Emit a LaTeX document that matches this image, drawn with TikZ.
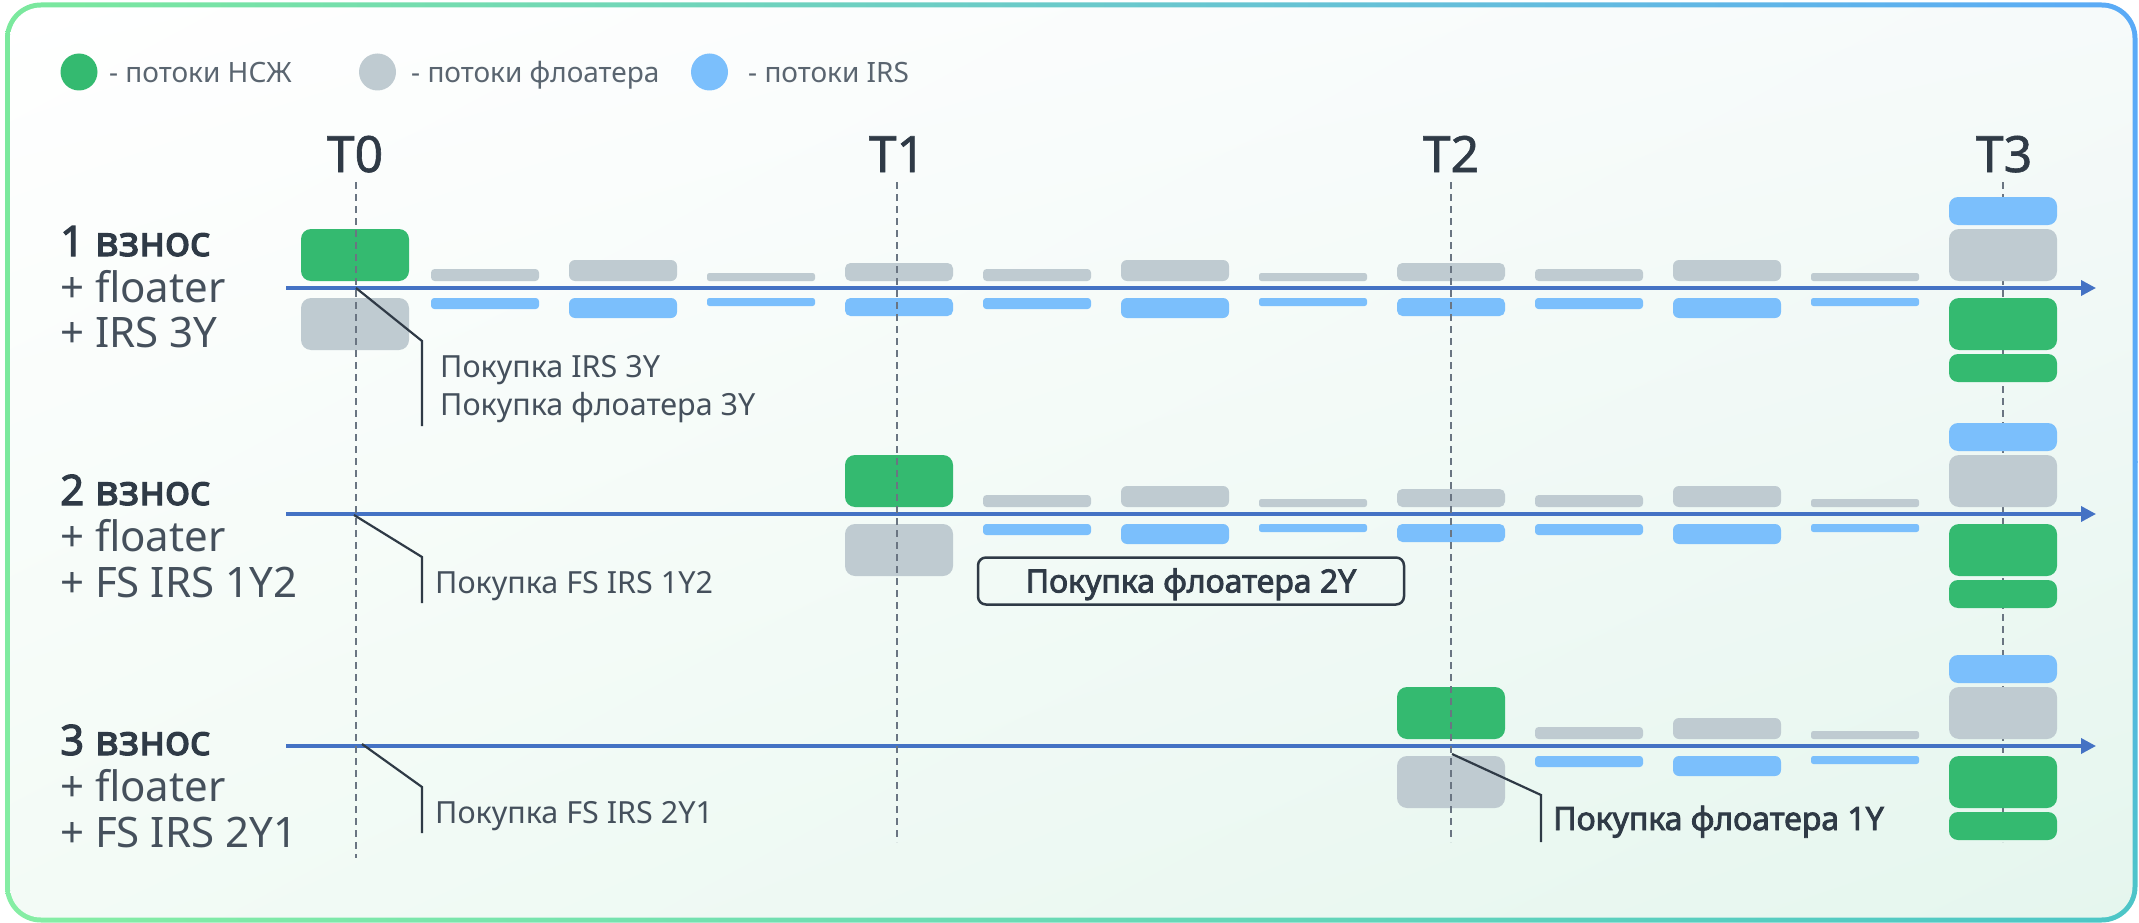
\documentclass[tikz,border=0pt]{standalone}
\usepackage{fontspec}
\setmainfont{Noto Sans}[BoldFont={Noto Sans}, BoldFeatures={FakeBold=2.6}]
\newfontfamily\medfont{Noto Sans}[FakeBold=1.2]
\usetikzlibrary{arrows.meta,shadings}
\definecolor{cgreen}{HTML}{34BA70}
\definecolor{cgray}{HTML}{BFCBD1}
\definecolor{cblue}{HTML}{7BBFFC}
\definecolor{caxis}{HTML}{4472C4}
\definecolor{cdark}{HTML}{2F3A46}
\definecolor{ctext}{HTML}{45505C}
\definecolor{clegend}{HTML}{5A6570}
\definecolor{cdash}{HTML}{6A7582}
\definecolor{bdA}{HTML}{7BE99D}
\definecolor{bdB}{HTML}{3DDB8C}
\definecolor{bdC}{HTML}{5AAAF7}
\definecolor{bdD}{HTML}{86EEA4}
\definecolor{bdE}{HTML}{4CC6C6}
\definecolor{bgA}{HTML}{FFFFFF}
\definecolor{bgB}{HTML}{F6FAFA}
\definecolor{bgC}{HTML}{F3FBF6}
\definecolor{bgD}{HTML}{E5F6EE}
\begin{document}
\begin{tikzpicture}[x=1pt,y=-1pt,
  box/.style={inner sep=0pt, outer sep=0pt, minimum width=108pt, draw=none},
  gbox/.style={box, fill=cgray},
  bbox/.style={box, fill=cblue},
  nbox/.style={box, fill=cgreen},
  bigbox/.style={minimum height=52pt, rounded corners=10pt},
  stackbox/.style={minimum height=28pt, rounded corners=9pt},
  dot/.style={circle, inner sep=0pt, minimum size=37pt, draw=none},
  legtext/.style={anchor=base west, inner sep=0pt, text=clegend, font=\fontsize{28}{32}\selectfont},
  tlabel/.style={anchor=base, inner sep=0pt, text=cdark, font=\medfont\fontsize{50}{56}\selectfont},
  rowhead/.style={anchor=base west, inner sep=0pt, text=cdark, font=\fontsize{42}{48}\selectfont\bfseries},
  rowsub/.style={anchor=base west, inner sep=0pt, text=ctext, font=\fontsize{42}{48}\selectfont},
  calltext/.style={anchor=base west, inner sep=0pt, text=ctext, font=\fontsize{30.5}{36}\selectfont},
  callbold/.style={anchor=base west, inner sep=0pt, text=cdark, font=\fontsize{32}{38}\selectfont\bfseries},
  callout/.style={draw=cdark, line width=2.2pt},
  dashline/.style={draw=cdash, line width=1.6pt, dash pattern=on 7pt off 5pt},
  axisline/.style={draw=caxis, line width=3.5pt, -{Triangle[length=15pt,width=15pt]}}
]
\useasboundingbox (0,0) rectangle (2139,923);
% frame
\begin{scope}
  \clip[rounded corners=36pt] (5,2.5) rectangle (2137.5,922.5);
  \shade[left color=bdA, middle color=bdB, right color=bdC] (0,0) rectangle (2139,462);
  \shade[upper left=bdA, upper right=bdC, lower left=bdD, lower right=bdE] (0,461) rectangle (2139,923);
\end{scope}
\shade[rounded corners=31pt, upper left=bgA, upper right=bgB, lower left=bgC, lower right=bgD] (10,7.5) rectangle (2132.5,917.5);

% legend
\node[dot, fill=cgreen] (lg1) at (79,72) {};
\node[legtext] (lt1) at (109,83) {- потоки НСЖ};
\node[dot, fill=cgray] (lg2) at (377.5,72) {};
\node[legtext] (lt2) at (411,83) {- потоки флоатера};
\node[dot, fill=cblue] (lg3) at (709.5,72) {};
\node[legtext] (lt3) at (748,83) {- потоки IRS};

% time labels
\node[tlabel] (t0) at (355,172) {T0};
\node[tlabel] (t1) at (897,172) {T1};
\node[tlabel] (t2) at (1451,172) {T2};
\node[tlabel] (t3) at (2004,172) {T3};

% T3 dashed line (behind boxes)
\coordinate (d3a) at (2003,182);
\coordinate (d3b) at (2003,842);
\draw[dashline] (d3a) -- (d3b);

% axes
\coordinate (a1s) at (286,288); \coordinate (a1e) at (2096,288);
\coordinate (a2s) at (286,514); \coordinate (a2e) at (2096,514);
\coordinate (a3s) at (286,746); \coordinate (a3e) at (2096,746);
\draw[axisline] (a1s) -- (a1e);
\draw[axisline] (a2s) -- (a2e);
\draw[axisline] (a3s) -- (a3e);

% small flow boxes
\foreach \r/\ay/\km in {1/288/1,2/514/5,3/746/9}{
  \foreach \k/\hg/\hb in {1/12/11,2/21/20,3/8/8,4/18/18,5/12/11,6/21/20,7/8/8,8/18/18,9/12/11,10/21/20,11/8/8}{
    \ifnum\k<\km\relax\else
      \pgfmathsetmacro\xx{899+(\k-4)*138}
      \pgfmathsetmacro\yg{\ay-7}
      \pgfmathsetmacro\yb{\ay+10}
      \pgfmathsetmacro\rg{min(\hg*0.3,6)}
      \pgfmathsetmacro\rb{min(\hb*0.3,6)}
      \node[gbox, minimum height=\hg pt, rounded corners=\rg pt, anchor=south] (r\r g\k) at (\xx,\yg) {};
      \node[bbox, minimum height=\hb pt, rounded corners=\rb pt, anchor=north] (r\r b\k) at (\xx,\yb) {};
    \fi
  }
}

% entry boxes
\node[nbox, bigbox, anchor=south] (e1n) at (355,281) {};
\node[gbox, bigbox, anchor=north] (e1g) at (355,298) {};
\node[nbox, bigbox, anchor=south] (e2n) at (899,507) {};
\node[gbox, bigbox, anchor=north] (e2g) at (899,524) {};
\node[nbox, bigbox, anchor=south] (e3n) at (1451,739) {};
\node[gbox, bigbox, anchor=north] (e3g) at (1451,756) {};

% T3 stacks
\foreach \r/\ay in {1/288,2/514,3/746}{
  \pgfmathsetmacro\ya{\ay-63}
  \pgfmathsetmacro\yb{\ay-7}
  \pgfmathsetmacro\yc{\ay+10}
  \pgfmathsetmacro\yd{\ay+66}
  \node[bbox, stackbox, anchor=south] (s\r b) at (2003,\ya) {};
  \node[gbox, bigbox, anchor=south] (s\r g) at (2003,\yb) {};
  \node[nbox, bigbox, anchor=north] (s\r n) at (2003,\yc) {};
  \node[nbox, stackbox, anchor=north] (s\r m) at (2003,\yd) {};
}

% dashed lines T0..T2 (over boxes)
\coordinate (d0a) at (356,182); \coordinate (d0b) at (356,858);
\coordinate (d1a) at (897,182); \coordinate (d1b) at (897,842);
\coordinate (d2a) at (1451,182); \coordinate (d2b) at (1451,842);
\draw[dashline] (d0a) -- (d0b);
\draw[dashline] (d1a) -- (d1b);
\draw[dashline] (d2a) -- (d2b);

% row headers
\node[rowhead] (h1) at (60,256) {1 взнос};
\node[rowsub] (h1a) at (60,302) {+ floater};
\node[rowsub] (h1b) at (60,347) {+ IRS 3Y};
\node[rowhead] (h2) at (60,505) {2 взнос};
\node[rowsub] (h2a) at (60,551) {+ floater};
\node[rowsub] (h2b) at (60,597) {+ FS IRS 1Y2};
\node[rowhead] (h3) at (60,755) {3 взнос};
\node[rowsub] (h3a) at (60,801) {+ floater};
\node[rowsub] (h3b) at (60,847) {+ FS IRS 2Y1};

% callouts
\coordinate (c1a) at (356,288); \coordinate (c1b) at (422,341); \coordinate (c1c) at (422,426);
\draw[callout] (c1a) -- (c1b) -- (c1c);
\node[calltext] (k1a) at (440,377) {Покупка IRS 3Y};
\node[calltext] (k1b) at (440,415) {Покупка флоатера 3Y};

\coordinate (c2a) at (354,515); \coordinate (c2b) at (422,557); \coordinate (c2c) at (422,603);
\draw[callout] (c2a) -- (c2b) -- (c2c);
\node[calltext] (k2) at (435,593) {Покупка FS IRS 1Y2};

\coordinate (c3a) at (362,744); \coordinate (c3b) at (422,787); \coordinate (c3c) at (422,833);
\draw[callout] (c3a) -- (c3b) -- (c3c);
\node[calltext] (k3) at (435,823) {Покупка FS IRS 2Y1};

\coordinate (c4a) at (1452,754); \coordinate (c4b) at (1541,795); \coordinate (c4c) at (1541,842);
\draw[callout] (c4a) -- (c4b) -- (c4c);
\node[callbold] (k4) at (1553,830) {Покупка флоатера 1Y};

% boxed label
\node[draw=cdark, line width=2.5pt, rounded corners=8pt, minimum width=426pt, minimum height=47pt,
      inner sep=0pt, text height=23pt, text depth=0pt, text=cdark,
      font=\fontsize{32}{38}\selectfont\bfseries] (fl2) at (1191,581) {Покупка флоатера 2Y};
\end{tikzpicture}
\end{document}
